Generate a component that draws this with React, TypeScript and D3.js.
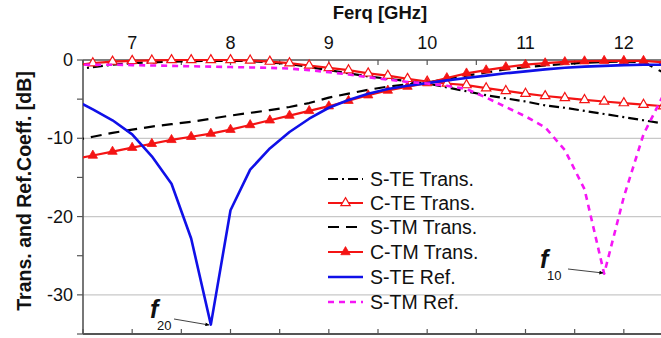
import React from 'react';
import * as d3 from 'd3';

const freqGHz = [6.4, 6.6, 6.8, 7.0, 7.2, 7.4, 7.6, 7.8, 8.0, 8.2, 8.4, 8.6, 8.8, 9.0, 9.2, 9.4, 9.6, 9.8, 10.0, 10.2, 10.4, 10.6, 10.8, 11.0, 11.2, 11.4, 11.6, 11.8, 12.0, 12.2, 12.4, 12.6];

const steTrans = [-1.3, -0.9, -0.6, -0.4, -0.3, -0.2, -0.15, -0.1, -0.1, -0.15, -0.3, -0.5, -0.9, -1.3, -1.7, -2.1, -2.4, -2.7, -3.0, -3.5, -4.0, -4.5, -4.9, -5.3, -5.8, -6.1, -6.5, -6.9, -7.3, -7.7, -8.1, -8.5];
const cteTrans = [-0.7, -0.4, -0.2, -0.1, -0.05, 0, 0, 0, 0, -0.05, -0.2, -0.4, -0.7, -1.0, -1.3, -1.7, -2.0, -2.4, -2.75, -3.0, -3.2, -3.6, -3.95, -4.3, -4.6, -4.85, -5.1, -5.3, -5.5, -5.7, -5.9, -6.1];
const stmTrans = [-10.3, -9.8, -9.3, -8.9, -8.5, -8.2, -7.9, -7.5, -7.1, -6.75, -6.4, -6.0, -5.5, -4.8, -4.3, -3.8, -3.4, -3.1, -2.9, -2.4, -2.0, -1.6, -1.2, -0.9, -0.7, -0.5, -0.35, -0.25, -0.2, -0.25, -1.6, -3.0];
const ctmTrans = [-12.7, -12.2, -11.7, -11.2, -10.7, -10.2, -9.8, -9.4, -8.9, -8.3, -7.7, -7.1, -6.5, -5.9, -5.2, -4.5, -3.9, -3.4, -2.95, -2.3, -1.7, -1.3, -0.9, -0.6, -0.4, -0.25, -0.15, -0.1, -0.1, -0.1, -0.3, -0.6];
const steRef = [-5.0, -6.3, -7.7, -9.5, -12.3, -15.8, -22.8, -33.8, -19.2, -14.0, -11.3, -9.2, -7.5, -6.1, -5.1, -4.3, -3.7, -3.3, -2.95, -2.6, -2.3, -2.0, -1.7, -1.45, -1.2, -1.0, -0.85, -0.75, -0.65, -0.6, -0.6, -0.6];
const stmRef = [-0.6, -0.6, -0.6, -0.65, -0.7, -0.75, -0.8, -0.85, -0.9, -0.95, -1.0, -1.1, -1.3, -1.55, -1.85, -2.2, -2.5, -2.8, -3.0, -3.3, -3.7, -4.8, -6.0, -7.2, -8.6, -11.5, -16.5, -27.3, -17.5, -9.5, -4.5, -1.5];

const seriesNames = ['S-TE Trans.', 'C-TE Trans.', 'S-TM Trans.', 'C-TM Trans.', 'S-TE Ref.', 'S-TM Ref.'];
const xTicks = [7, 8, 9, 10, 11, 12];
const xMinorTicks = [6.5, 7, 7.5, 8, 8.5, 9, 9.5, 10, 10.5, 11, 11.5, 12, 12.5];
const yTicks = [0, -10, -20, -30];
const yMinorTicks = [0, -5, -10, -15, -20, -25, -30, -35];
const gridTicks = [-10, -20, -30];

const RED = '#f41414';
const BLUE = '#1010e8';
const MAG = '#f516f5';

type Style = { color: string; dash?: string; marker?: 'open' | 'filled'; width: number };
const styles: Style[] = [
  { color: '#000', dash: '10,4,2,4', width: 2.2 },
  { color: RED, marker: 'open', width: 2.2 },
  { color: '#000', dash: '11,7', width: 2.2 },
  { color: RED, marker: 'filled', width: 2.2 },
  { color: BLUE, width: 2.6 },
  { color: MAG, dash: '6,5', width: 2.6 },
];

export default function App() {
  const W = 661, H = 338;
  const x = d3.scaleLinear().domain([6.5, 12.5]).range([83, 673]);
  const y = d3.scaleLinear().domain([-35, 0]).range([334, 60]);
  const data = [steTrans, cteTrans, stmTrans, ctmTrans, steRef, stmRef];
  const lineGen = d3.line<number>().x((_, i) => x(freqGHz[i])).y((d) => y(d));
  const tri = d3.symbol(d3.symbolTriangle, 38)()!;
  const font = '"Liberation Sans", Arial, sans-serif';

  const legendX0 = 328, legendX1 = 363, legendTextX = 370;
  const legendY = [179, 203, 227, 252, 277, 302];

  const renderMarker = (kind: 'open' | 'filled', cx: number, cy: number, key: any) => (
    <path key={key} d={tri} transform={`translate(${cx},${cy})`}
      fill={kind === 'open' ? '#fff' : RED} stroke={RED} strokeWidth={kind === 'open' ? 1.2 : 0.8} />
  );

  return (
    <svg width={W} height={H} style={{ position: 'absolute', left: 0, top: 0, background: '#fff' }} fontFamily={font}>
      <defs>
        <clipPath id="plotclip"><rect x={83} y={40} width={600} height={294} /></clipPath>
        <marker id="arrow" viewBox="0 0 10 10" refX="9" refY="5" markerWidth="7" markerHeight="5" orient="auto">
          <path d="M0,0 L10,5 L0,10 z" fill="#000" />
        </marker>
      </defs>
      {gridTicks.map((t) => (
        <line key={t} x1={83} x2={W} y1={y(t)} y2={y(t)} stroke="#c8c8c8" strokeWidth={1.2} />
      ))}
      <line x1={83} x2={W} y1={60} y2={60} stroke="#555" strokeWidth={1.6} />
      <line x1={83} x2={W} y1={334} y2={334} stroke="#555" strokeWidth={2} />
      <line x1={83} x2={83} y1={60} y2={334} stroke="#555" strokeWidth={1.6} />
      {xMinorTicks.map((t) => (
        <g key={t}>
          <line x1={x(t)} x2={x(t)} y1={60} y2={65} stroke="#555" strokeWidth={1.2} />
          <line x1={x(t)} x2={x(t)} y1={334} y2={329} stroke="#555" strokeWidth={1.2} />
        </g>
      ))}
      {yMinorTicks.map((t) => (
        <line key={t} x1={77} x2={83} y1={y(t)} y2={y(t)} stroke="#555" strokeWidth={1.2} />
      ))}
      {xTicks.map((t) => (
        <text key={t} x={x(t)} y={49} fontSize={18} textAnchor="middle" fill="#111">{t}</text>
      ))}
      {yTicks.map((t) => (
        <text key={t} x={73} y={y(t)} fontSize={18} textAnchor="end" dominantBaseline="central" fill="#111">{t}</text>
      ))}
      <text x={380} y={19} fontSize={18.5} fontWeight="bold" textAnchor="middle" fill="#111">Ferq [GHz]</text>
      <text transform="translate(31,191) rotate(-90)" fontSize={19.5} fontWeight="bold" textAnchor="middle" fill="#111">
        Trans. and Ref.Coeff. [dB]
      </text>

      <g clipPath="url(#plotclip)">
        {data.map((vals, si) => {
          const s = styles[si];
          return (
            <g key={si}>
              <path d={lineGen(vals)!} fill="none" stroke={s.color} strokeWidth={s.width}
                strokeDasharray={s.dash} strokeLinejoin="round" />
              {s.marker && vals.map((v, i) => {
                const f = freqGHz[i];
                if (f < 6.55 || f > 12.45) return null;
                return renderMarker(s.marker!, x(f), y(v), i);
              })}
            </g>
          );
        })}
      </g>

      {seriesNames.map((name, i) => {
        const s = styles[i];
        const ly = legendY[i];
        return (
          <g key={name}>
            <line x1={legendX0} x2={legendX1} y1={ly} y2={ly} stroke={s.color} strokeWidth={s.width}
              strokeDasharray={s.dash} />
            {s.marker && renderMarker(s.marker, (legendX0 + legendX1) / 2, ly, 'm')}
            <text x={legendTextX} y={ly} fontSize={19.5} dominantBaseline="central" fill="#111">{name}</text>
          </g>
        );
      })}

      <text x={150} y={318} fontSize={25} fontStyle="italic" fontWeight="bold" fill="#111">f</text>
      <text x={157} y={330} fontSize={13} fill="#111">20</text>
      <line x1={174} y1={319} x2={209} y2={325} stroke="#111" strokeWidth={0.8} markerEnd="url(#arrow)" />
      <text x={540} y={268} fontSize={25} fontStyle="italic" fontWeight="bold" fill="#111">f</text>
      <text x={547} y={280} fontSize={13} fill="#111">10</text>
      <line x1={568} y1={269} x2={603} y2={273} stroke="#111" strokeWidth={0.8} markerEnd="url(#arrow)" />
    </svg>
  );
}
